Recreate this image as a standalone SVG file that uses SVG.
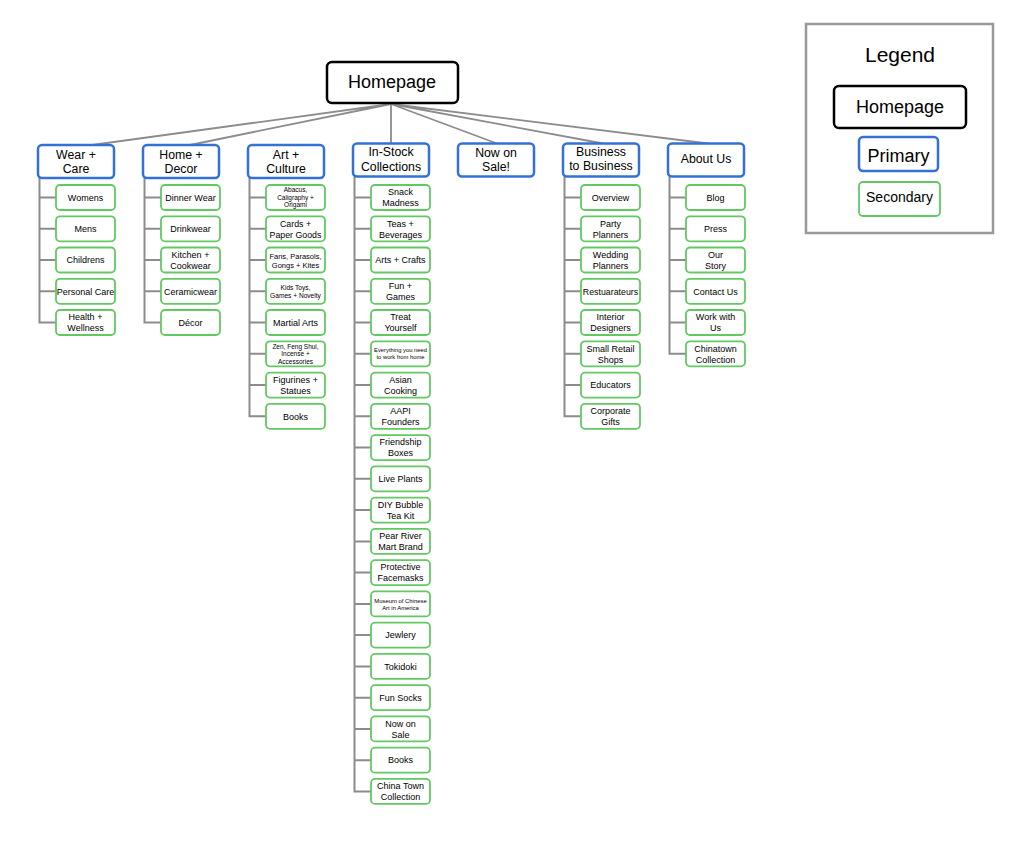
<svg xmlns="http://www.w3.org/2000/svg" width="1024" height="841" viewBox="0 0 1024 841">
<style>
text{font-family:"Liberation Sans",Arial,sans-serif;fill:#000;text-anchor:middle}
.home{fill:#fff;stroke:#000;stroke-width:2.5}
.pri{fill:#fff;stroke:#3371d6;stroke-width:2.5}
.sec{fill:#fff;stroke:#62c962;stroke-width:1.8}
.c{fill:none;stroke:#8c8c8c;stroke-width:1.8}
.t{fill:none;stroke:#8c8c8c;stroke-width:2}
.pt{font-size:12.3px}
.st{font-size:9px}
</style>
<rect width="1024" height="841" fill="#fff"/>
<g id="connectors">
<path class="c" d="M391,104L92,145M391,104L190,145M391,104L391,143.5M391,104L497,143.5M391,104L603,143.5M391,104L708,143.5"/>
<path class="t" d="M39.5,178V322.5H56M39.5,197.5H56M39.5,228.8H56M39.5,260H56M39.5,291.3H56"/>
<path class="t" d="M144.5,178V322.5H161M144.5,197.5H161M144.5,228.8H161M144.5,260H161M144.5,291.3H161"/>
<path class="t" d="M249.5,178V416.3H266M249.5,197.5H266M249.5,228.8H266M249.5,260H266M249.5,291.3H266M249.5,322.5H266M249.5,353.8H266M249.5,385.1H266"/>
<path class="t" d="M354.5,176.5V791.4H371M354.5,197.5H371M354.5,228.8H371M354.5,260H371M354.5,291.3H371M354.5,322.5H371M354.5,353.8H371M354.5,385.1H371M354.5,416.3H371M354.5,447.6H371M354.5,478.8H371M354.5,510.1H371M354.5,541.4H371M354.5,572.6H371M354.5,603.9H371M354.5,635.1H371M354.5,666.4H371M354.5,697.7H371M354.5,728.9H371M354.5,760.2H371"/>
<path class="t" d="M564.5,176.5V416.3H581M564.5,197.5H581M564.5,228.8H581M564.5,260H581M564.5,291.3H581M564.5,322.5H581M564.5,353.8H581M564.5,385.1H581"/>
<path class="t" d="M669.5,176.5V353.8H686M669.5,197.5H686M669.5,228.8H686M669.5,260H686M669.5,291.3H686M669.5,322.5H686"/>
</g>
<g id="homepage"><rect class="home" x="327" y="62" width="131" height="41" rx="5"/><text x="392" y="88" font-size="18">Homepage</text></g>
<g id="wear-care"><rect class="pri" x="38" y="145" width="76" height="33" rx="4"/><text class="pt" x="76" y="159">Wear +</text><text class="pt" x="76" y="173">Care</text></g>
<g id="home-decor"><rect class="pri" x="143" y="145" width="76" height="33" rx="4"/><text class="pt" x="181" y="158.5">Home +</text><text class="pt" x="181" y="173">Decor</text></g>
<g id="art-culture"><rect class="pri" x="248" y="145" width="76" height="33" rx="4"/><text class="pt" x="286" y="158.5">Art +</text><text class="pt" x="286" y="173">Culture</text></g>
<g id="in-stock"><rect class="pri" x="353" y="143.5" width="76" height="33" rx="4"/><text class="pt" x="391" y="156.3">In-Stock</text><text class="pt" x="391" y="171">Collections</text></g>
<g id="now-on-sale"><rect class="pri" x="458" y="143.5" width="76" height="33" rx="4"/><text class="pt" x="496" y="157.3">Now on</text><text class="pt" x="496" y="171.3">Sale!</text></g>
<g id="business"><rect class="pri" x="563" y="143.5" width="76" height="33" rx="4"/><text class="pt" x="601" y="156.3">Business</text><text class="pt" x="601" y="170.3">to Business</text></g>
<g id="about-us"><rect class="pri" x="668" y="143.5" width="76" height="33" rx="4"/><text class="pt" x="706" y="163.3">About Us</text></g>

<g id="womens"><rect class="sec" x="56" y="185" width="59" height="25" rx="4"/><text class="st" x="85.5" y="200.7">Womens</text></g>
<g id="mens"><rect class="sec" x="56" y="216.3" width="59" height="25" rx="4"/><text class="st" x="85.5" y="232">Mens</text></g>
<g id="childrens"><rect class="sec" x="56" y="247.5" width="59" height="25" rx="4"/><text class="st" x="85.5" y="263.2">Childrens</text></g>
<g id="personal-care"><rect class="sec" x="56" y="278.8" width="59" height="25" rx="4"/><text class="st" x="85.5" y="294.5">Personal Care</text></g>
<g id="health"><rect class="sec" x="56" y="310" width="59" height="25" rx="4"/><text class="st" x="85.5" y="320.2">Health +</text><text class="st" x="85.5" y="331.2">Wellness</text></g>

<g id="dinner-wear"><rect class="sec" x="161" y="185" width="59" height="25" rx="4"/><text class="st" x="190.5" y="200.7">Dinner Wear</text></g>
<g id="drinkwear"><rect class="sec" x="161" y="216.3" width="59" height="25" rx="4"/><text class="st" x="190.5" y="232">Drinkwear</text></g>
<g id="kitchen"><rect class="sec" x="161" y="247.5" width="59" height="25" rx="4"/><text class="st" x="190.5" y="257.7">Kitchen +</text><text class="st" x="190.5" y="268.7">Cookwear</text></g>
<g id="ceramicwear"><rect class="sec" x="161" y="278.8" width="59" height="25" rx="4"/><text class="st" x="190.5" y="294.5">Ceramicwear</text></g>
<g id="decor"><rect class="sec" x="161" y="310" width="59" height="25" rx="4"/><text class="st" x="190.5" y="325.7">Décor</text></g>

<g id="abacus"><rect class="sec" x="266" y="185" width="59" height="25" rx="4"/><text x="295.5" y="192.3" font-size="6.5">Abacus,</text><text x="295.5" y="199.8" font-size="6.5">Caligraphy +</text><text x="295.5" y="207.3" font-size="6.5">Origami</text></g>
<g id="cards"><rect class="sec" x="266" y="216.3" width="59" height="25" rx="4"/><text x="295.5" y="226.5" font-size="8.8">Cards +</text><text x="295.5" y="237.5" font-size="8.8">Paper Goods</text></g>
<g id="fans"><rect class="sec" x="266" y="247.5" width="59" height="25" rx="4"/><text x="295.5" y="259.4" font-size="7.5">Fans, Parasols,</text><text x="295.5" y="268" font-size="7.5">Gongs + Kites</text></g>
<g id="kids-toys"><rect class="sec" x="266" y="278.8" width="59" height="25" rx="4"/><text x="295.5" y="289.7" font-size="6.6">Kids Toys,</text><text x="295.5" y="297.7" font-size="6.6">Games + Novelty</text></g>
<g id="martial-arts"><rect class="sec" x="266" y="310" width="59" height="25" rx="4"/><text class="st" x="295.5" y="325.7">Martial Arts</text></g>
<g id="zen"><rect class="sec" x="266" y="341.3" width="59" height="25" rx="4"/><text x="295.5" y="349" font-size="6.5">Zen, Feng Shui,</text><text x="295.5" y="356.3" font-size="6.5">Incense +</text><text x="295.5" y="363.8" font-size="6.5">Accessories</text></g>
<g id="figurines"><rect class="sec" x="266" y="372.6" width="59" height="25" rx="4"/><text class="st" x="295.5" y="382.8">Figurines +</text><text class="st" x="295.5" y="393.8">Statues</text></g>
<g id="books-art"><rect class="sec" x="266" y="403.8" width="59" height="25" rx="4"/><text class="st" x="295.5" y="419.5">Books</text></g>

<g id="snack"><rect class="sec" x="371" y="185" width="59" height="25" rx="4"/><text class="st" x="400.5" y="195.2">Snack</text><text class="st" x="400.5" y="206.2">Madness</text></g>
<g id="teas"><rect class="sec" x="371" y="216.3" width="59" height="25" rx="4"/><text class="st" x="400.5" y="226.5">Teas +</text><text class="st" x="400.5" y="237.5">Beverages</text></g>
<g id="arts-crafts"><rect class="sec" x="371" y="247.5" width="59" height="25" rx="4"/><text class="st" x="400.5" y="263.2">Arts + Crafts</text></g>
<g id="fun-games"><rect class="sec" x="371" y="278.8" width="59" height="25" rx="4"/><text class="st" x="400.5" y="289">Fun +</text><text class="st" x="400.5" y="300">Games</text></g>
<g id="treat"><rect class="sec" x="371" y="310" width="59" height="25" rx="4"/><text class="st" x="400.5" y="320.2">Treat</text><text class="st" x="400.5" y="331.2">Yourself</text></g>
<g id="everything"><rect class="sec" x="371" y="341.3" width="59" height="25" rx="4"/><text x="400.5" y="352.1" font-size="5.8">Everything you need</text><text x="400.5" y="359.4" font-size="5.8">to work from home</text></g>
<g id="asian-cooking"><rect class="sec" x="371" y="372.6" width="59" height="25" rx="4"/><text class="st" x="400.5" y="382.8">Asian</text><text class="st" x="400.5" y="393.8">Cooking</text></g>
<g id="aapi"><rect class="sec" x="371" y="403.8" width="59" height="25" rx="4"/><text class="st" x="400.5" y="414">AAPI</text><text class="st" x="400.5" y="425">Founders</text></g>
<g id="friendship"><rect class="sec" x="371" y="435.1" width="59" height="25" rx="4"/><text class="st" x="400.5" y="445.3">Friendship</text><text class="st" x="400.5" y="456.3">Boxes</text></g>
<g id="live-plants"><rect class="sec" x="371" y="466.3" width="59" height="25" rx="4"/><text class="st" x="400.5" y="482">Live Plants</text></g>
<g id="diy"><rect class="sec" x="371" y="497.6" width="59" height="25" rx="4"/><text class="st" x="400.5" y="507.8">DIY Bubble</text><text class="st" x="400.5" y="518.8">Tea Kit</text></g>
<g id="pear-river"><rect class="sec" x="371" y="528.9" width="59" height="25" rx="4"/><text class="st" x="400.5" y="539.1">Pear River</text><text class="st" x="400.5" y="550.1">Mart Brand</text></g>
<g id="facemasks"><rect class="sec" x="371" y="560.1" width="59" height="25" rx="4"/><text class="st" x="400.5" y="570.3">Protective</text><text class="st" x="400.5" y="581.3">Facemasks</text></g>
<g id="museum"><rect class="sec" x="371" y="591.4" width="59" height="25" rx="4"/><text x="400.5" y="602.8" font-size="5.9">Museum of Chinese</text><text x="400.5" y="609.8" font-size="5.9">Art in America</text></g>
<g id="jewlery"><rect class="sec" x="371" y="622.6" width="59" height="25" rx="4"/><text class="st" x="400.5" y="638.3">Jewlery</text></g>
<g id="tokidoki"><rect class="sec" x="371" y="653.9" width="59" height="25" rx="4"/><text class="st" x="400.5" y="669.6">Tokidoki</text></g>
<g id="fun-socks"><rect class="sec" x="371" y="685.2" width="59" height="25" rx="4"/><text class="st" x="400.5" y="700.9">Fun Socks</text></g>
<g id="now-on-sale-2"><rect class="sec" x="371" y="716.4" width="59" height="25" rx="4"/><text class="st" x="400.5" y="726.6">Now on</text><text class="st" x="400.5" y="737.6">Sale</text></g>
<g id="books-stock"><rect class="sec" x="371" y="747.7" width="59" height="25" rx="4"/><text class="st" x="400.5" y="763.4">Books</text></g>
<g id="china-town"><rect class="sec" x="371" y="778.9" width="59" height="25" rx="4"/><text class="st" x="400.5" y="789.1">China Town</text><text class="st" x="400.5" y="800.1">Collection</text></g>

<g id="overview"><rect class="sec" x="581" y="185" width="59" height="25" rx="4"/><text class="st" x="610.5" y="200.7">Overview</text></g>
<g id="party"><rect class="sec" x="581" y="216.3" width="59" height="25" rx="4"/><text class="st" x="610.5" y="226.5">Party</text><text class="st" x="610.5" y="237.5">Planners</text></g>
<g id="wedding"><rect class="sec" x="581" y="247.5" width="59" height="25" rx="4"/><text class="st" x="610.5" y="257.7">Wedding</text><text class="st" x="610.5" y="268.7">Planners</text></g>
<g id="restuarateurs"><rect class="sec" x="581" y="278.8" width="59" height="25" rx="4"/><text x="610.5" y="294.5" font-size="8.8">Restuarateurs</text></g>
<g id="interior"><rect class="sec" x="581" y="310" width="59" height="25" rx="4"/><text class="st" x="610.5" y="320.2">Interior</text><text class="st" x="610.5" y="331.2">Designers</text></g>
<g id="small-retail"><rect class="sec" x="581" y="341.3" width="59" height="25" rx="4"/><text class="st" x="610.5" y="351.5">Small Retail</text><text class="st" x="610.5" y="362.5">Shops</text></g>
<g id="educators"><rect class="sec" x="581" y="372.6" width="59" height="25" rx="4"/><text class="st" x="610.5" y="388.3">Educators</text></g>
<g id="corporate"><rect class="sec" x="581" y="403.8" width="59" height="25" rx="4"/><text class="st" x="610.5" y="414">Corporate</text><text class="st" x="610.5" y="425">Gifts</text></g>

<g id="blog"><rect class="sec" x="686" y="185" width="59" height="25" rx="4"/><text class="st" x="715.5" y="200.7">Blog</text></g>
<g id="press"><rect class="sec" x="686" y="216.3" width="59" height="25" rx="4"/><text class="st" x="715.5" y="232">Press</text></g>
<g id="our-story"><rect class="sec" x="686" y="247.5" width="59" height="25" rx="4"/><text class="st" x="715.5" y="257.7">Our</text><text class="st" x="715.5" y="268.7">Story</text></g>
<g id="contact"><rect class="sec" x="686" y="278.8" width="59" height="25" rx="4"/><text class="st" x="715.5" y="294.5">Contact Us</text></g>
<g id="work"><rect class="sec" x="686" y="310" width="59" height="25" rx="4"/><text class="st" x="715.5" y="320.2">Work with</text><text class="st" x="715.5" y="331.2">Us</text></g>
<g id="chinatown"><rect class="sec" x="686" y="341.3" width="59" height="25" rx="4"/><text class="st" x="715.5" y="351.5">Chinatown</text><text class="st" x="715.5" y="362.5">Collection</text></g>

<g id="legend">
<rect x="806" y="24" width="187" height="209" fill="#fff" stroke="#999" stroke-width="2.5"/>
<text x="900" y="62" font-size="21">Legend</text>
<rect class="home" x="834" y="86" width="132" height="42" rx="5"/><text x="900" y="113" font-size="18">Homepage</text>
<rect class="pri" x="859" y="137" width="79" height="34" rx="4"/><text x="898.5" y="162" font-size="18">Primary</text>
<rect class="sec" x="859" y="182" width="81" height="34" rx="4"/><text x="899.5" y="202" font-size="14">Secondary</text>
</g>
</svg>
